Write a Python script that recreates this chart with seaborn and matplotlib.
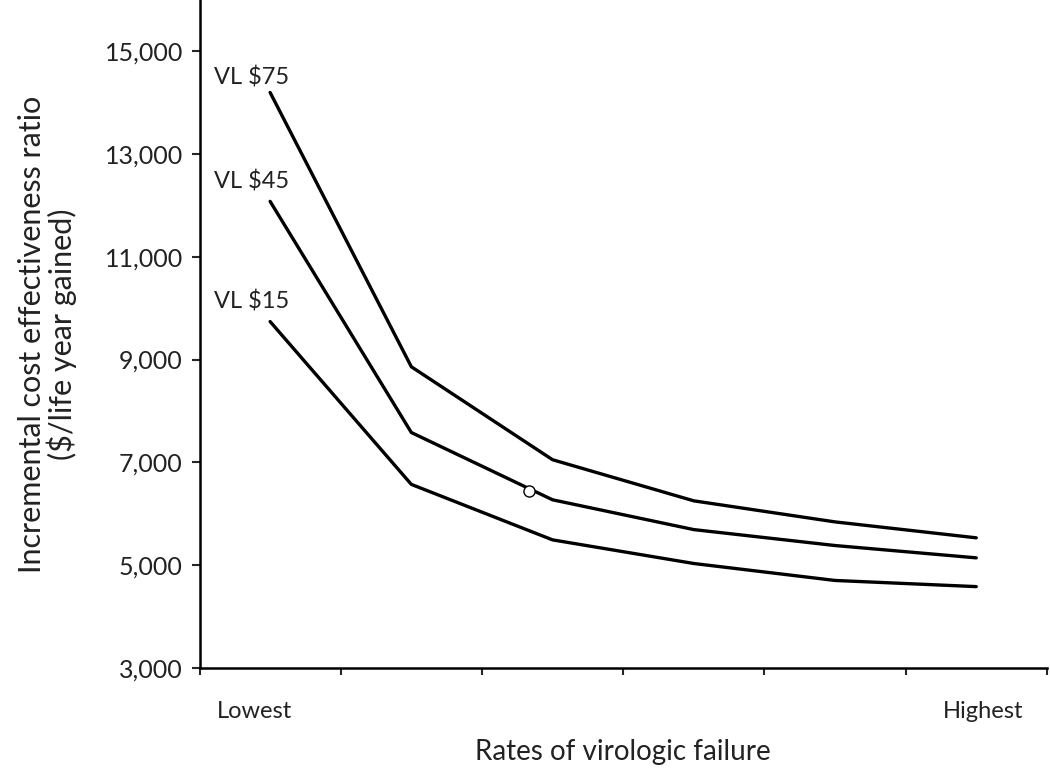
import numpy as np
import pandas as pd
import seaborn as sns
import matplotlib.pyplot as plt
from matplotlib.ticker import FuncFormatter, FixedLocator

# data
x_pos = [0.5, 1.5, 2.5, 3.5, 4.5, 5.5]
vl75 = [14200, 8860, 7050, 6250, 5840, 5530]
vl45 = [12080, 7580, 6270, 5690, 5380, 5140]
vl15 = [9740, 6570, 5490, 5030, 4700, 4580]
series_names = ["VL $75", "VL $45", "VL $15"]
label_y = [14500, 12470, 10130]
marker_pt = (2.33, 6450)
x_labels = ["Lowest", "Highest"]

df = pd.DataFrame({
    "x": x_pos * 3,
    "icer": vl75 + vl45 + vl15,
    "series": np.repeat(series_names, len(x_pos)),
})

sns.set_theme(style="ticks")
plt.rcParams['font.family'] = ['Lato', 'DejaVu Sans']

fig = plt.figure(figsize=(10.5, 7.72), dpi=100)
ax = fig.add_axes([0.19, 0.135, 0.807, 0.865])

sns.lineplot(data=df, x="x", y="icer", hue="series",
             palette={n: "black" for n in series_names},
             linewidth=2.4, legend=False, ax=ax)
ax.plot([marker_pt[0]], [marker_pt[1]], marker="o", ms=8, mfc="white",
        mec="black", mew=1.0, zorder=5)

for name, ly in zip(series_names, label_y):
    ax.text(0.37, ly, name.replace("$", r"\$"), ha="center", va="center",
            fontsize=17, color="#222222")

ax.set_xlim(0, 6)
ax.set_ylim(3000, 16000)
ax.set_yticks(range(3000, 16000, 2000))
ax.yaxis.set_major_formatter(FuncFormatter(lambda v, p: f"{int(v):,}"))
ax.xaxis.set_major_locator(FixedLocator(range(0, 7)))
ax.set_xticklabels([])
ax.xaxis.set_minor_locator(FixedLocator([0.39, 5.55]))
ax.set_xticklabels(x_labels, minor=True)
ax.tick_params(axis="x", which="minor", length=0, pad=24, labelsize=17,
               labelcolor="#222222")
ax.tick_params(axis="x", which="major", length=5, width=1.5, direction="out")
ax.tick_params(axis="y", length=6, width=1.5, labelsize=18, direction="out",
               labelcolor="#222222", pad=6)

for s in ["left", "bottom"]:
    ax.spines[s].set_linewidth(1.8)
    ax.spines[s].set_color("black")
sns.despine(ax=ax)

ax.set_xlabel("Rates of virologic failure", fontsize=20, labelpad=12,
              color="#222222")
ax.set_ylabel("Incremental cost effectiveness ratio\n(\\$/life year gained)",
              fontsize=22, labelpad=20, color="#222222", linespacing=1.0)

fig.savefig("out.png", dpi=100)
